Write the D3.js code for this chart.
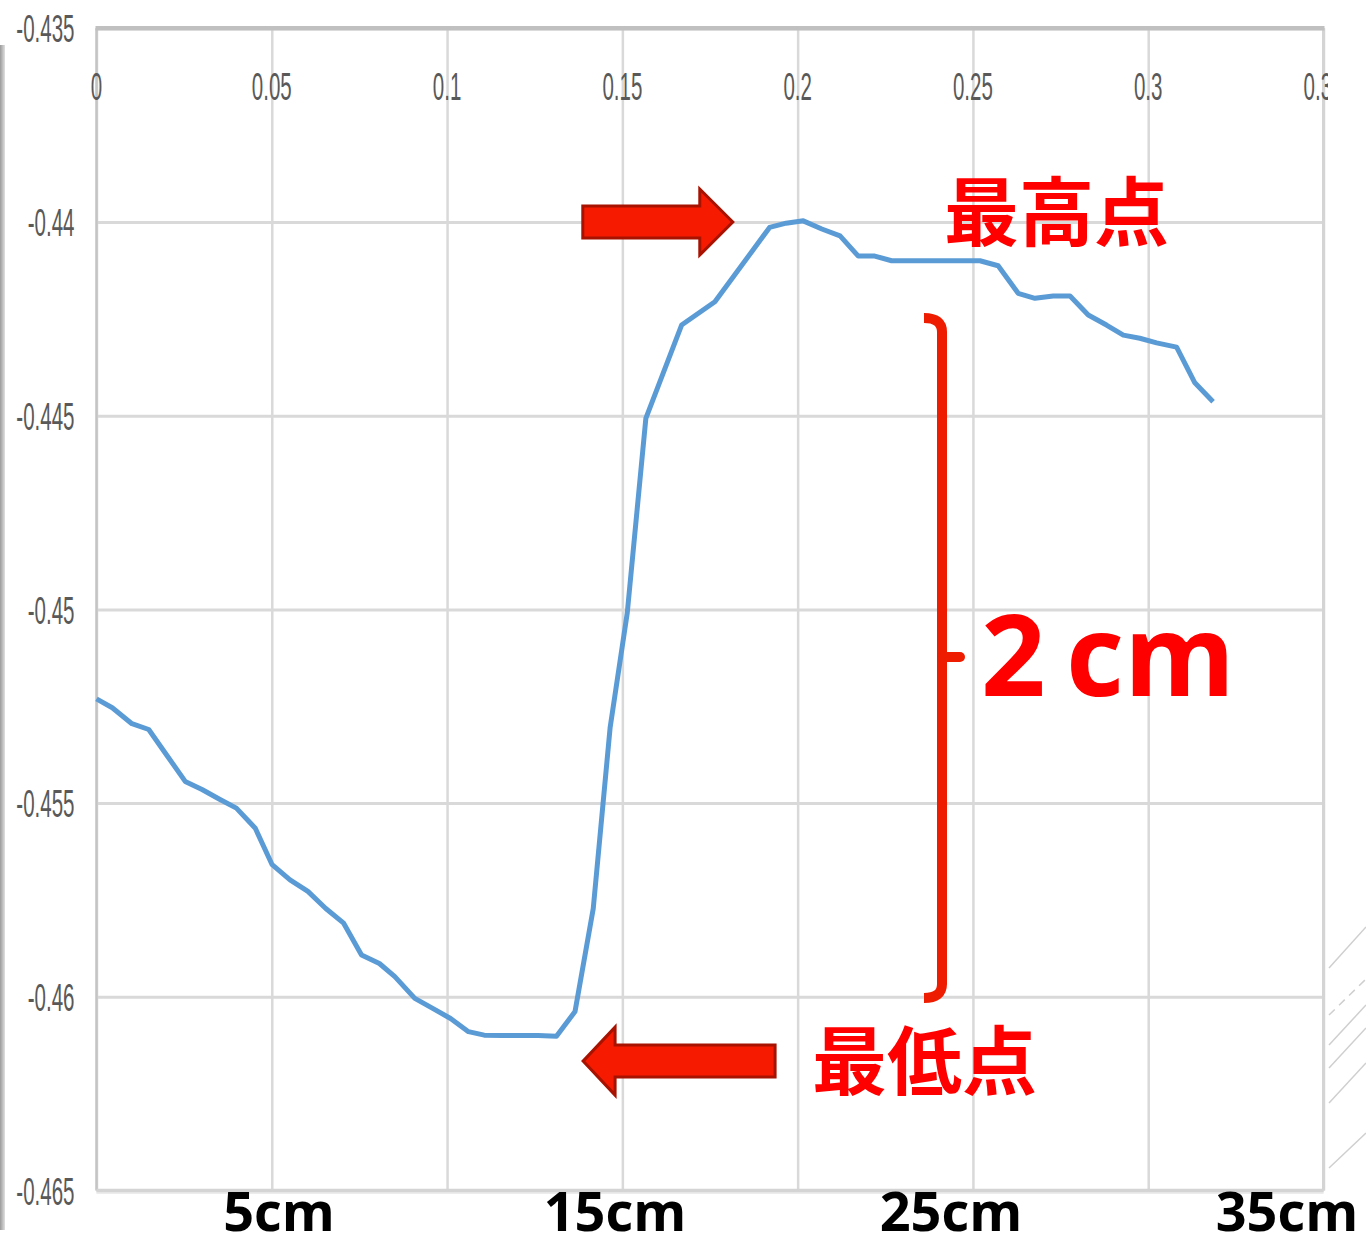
<!DOCTYPE html>
<html>
<head>
<meta charset="utf-8">
<script src="https://cdn.jsdelivr.net/npm/d3@7"></script>
<style>
  body { margin: 0; background: #fff; }
  svg { display: block; }
</style>
</head>
<body>
<div id="chart"></div>
<script>
'use strict';

// distance along the board (m) and measured height (m)
const distances = [
    0, 0.0045, 0.0101, 0.0149, 0.0201, 0.0253, 0.0301, 0.0351, 0.0399, 0.0453,
    0.0501, 0.0552, 0.0603, 0.0654, 0.0705, 0.0756, 0.0807, 0.0851, 0.0908, 0.0959,
    0.101, 0.1061, 0.1106, 0.1158, 0.1209, 0.126, 0.1312, 0.1365, 0.1417, 0.1465,
    0.1514, 0.1567, 0.1669, 0.1764, 0.1816, 0.1868, 0.192, 0.1967, 0.2016, 0.2069,
    0.2121, 0.2173, 0.222, 0.2268, 0.2318, 0.2368, 0.2418, 0.2468, 0.252, 0.2572,
    0.2629, 0.2677, 0.2729, 0.2777, 0.2829, 0.2881, 0.2929, 0.2976, 0.3024, 0.3081,
    0.3133, 0.3185
];
const heights = [
    -0.45231, -0.45254, -0.45295, -0.4531, -0.45377, -0.45444, -0.45465, -0.4549, -0.45513, -0.45565,
    -0.45659, -0.45698, -0.45728, -0.45772, -0.4581, -0.45892, -0.45914, -0.45948, -0.46004, -0.4603,
    -0.46056, -0.4609, -0.46099, -0.461, -0.461, -0.461, -0.46102, -0.46038, -0.45772, -0.45306,
    -0.45009, -0.44507, -0.44266, -0.44206, -0.44142, -0.44078, -0.44014, -0.44003, -0.43997, -0.44018,
    -0.44036, -0.44088, -0.44088, -0.441, -0.441, -0.441, -0.441, -0.441, -0.441, -0.44113,
    -0.44184, -0.44197, -0.44191, -0.44191, -0.4424, -0.44266, -0.44292, -0.443, -0.44312, -0.44323,
    -0.44415, -0.44464
];

const xTicks = [0, 0.05, 0.1, 0.15, 0.2, 0.25, 0.3, 0.35];
const xTickLabels = ["0", "0.05", "0.1", "0.15", "0.2", "0.25", "0.3", "0.35"];
const yTicks = [-0.435, -0.44, -0.445, -0.45, -0.455, -0.46, -0.465];
const yTickLabels = ["-0.435", "-0.44", "-0.445", "-0.45", "-0.455", "-0.46", "-0.465"];
const cmLabels = ["5cm", "15cm", "25cm", "35cm"];

const width = 1366, height = 1246;
const marginLeft = 96.5, marginTop = 28.3;
const plotW = 1227, plotH = 1162.2;
const labelScaleX = 0.54;

const svg = d3.select("#chart").append("svg")
    .attr("width", width)
    .attr("height", height);

svg.append("rect").attr("width", width).attr("height", height).attr("fill", "#fff");

const defs = svg.append("defs");
const grad = defs.append("linearGradient").attr("id", "edge").attr("x1", 0).attr("x2", 1).attr("y1", 0).attr("y2", 0);
grad.append("stop").attr("offset", 0).attr("stop-color", "#9a9a9a");
grad.append("stop").attr("offset", 1).attr("stop-color", "#e0e0e0");
defs.append("clipPath").attr("id", "cropRight")
    .append("rect").attr("x", 0).attr("y", 0).attr("width", 1328).attr("height", height);

// grey edge of the slide on the left
svg.append("rect").attr("x", 0).attr("y", 45).attr("width", 5).attr("height", 1185).attr("fill", "url(#edge)");

// faint diagonal strokes of the slide background on the right
const hatch = [[968, 927, false], [1015, 979, true], [1045, 1005, false], [1068, 1028, false], [1103, 1063, false], [1168, 1133, false]];
svg.append("g").selectAll("line").data(hatch).enter().append("line")
    .attr("x1", 1329).attr("x2", 1366)
    .attr("y1", d => d[0]).attr("y2", d => d[1])
    .attr("stroke", "#cfcfcf").attr("stroke-width", 1.5)
    .attr("stroke-dasharray", d => d[2] ? "8,6" : null);

const x = d3.scaleLinear().domain([0, 0.35]).range([marginLeft, marginLeft + plotW]);
const y = d3.scaleLinear().domain([-0.435, -0.465]).range([marginTop, marginTop + plotH]);

// horizontal gridlines
const yGrid = svg.append("g")
    .attr("transform", "translate(" + marginLeft + ",0)")
    .call(d3.axisLeft(y).tickValues(yTicks).tickSize(-plotW).tickFormat(""));
yGrid.select(".domain").remove();
yGrid.selectAll("line").attr("stroke", "#d9d9d9").attr("stroke-width", 3);

// vertical gridlines
const xGrid = svg.append("g")
    .attr("transform", "translate(0," + marginTop + ")")
    .call(d3.axisBottom(x).tickValues(xTicks).tickSize(plotH).tickFormat(""));
xGrid.select(".domain").remove();
xGrid.selectAll("line").attr("stroke", "#d9d9d9").attr("stroke-width", 2.5);

// frame: axis line on top, border left/right/bottom
svg.append("line").attr("x1", marginLeft).attr("x2", marginLeft).attr("y1", marginTop).attr("y2", y(-0.465))
    .attr("stroke", "#c4c4c4").attr("stroke-width", 2.5);
svg.append("line").attr("x1", x(0.35)).attr("x2", x(0.35)).attr("y1", marginTop).attr("y2", y(-0.465))
    .attr("stroke", "#d4d4d4").attr("stroke-width", 3);
svg.append("line").attr("x1", marginLeft).attr("x2", x(0.35)).attr("y1", y(-0.465) + 2).attr("y2", y(-0.465) + 2)
    .attr("stroke", "#ececec").attr("stroke-width", 3);
svg.append("line").attr("x1", marginLeft).attr("x2", x(0.35)).attr("y1", y(-0.465)).attr("y2", y(-0.465))
    .attr("stroke", "#d4d4d4").attr("stroke-width", 3.5);
svg.append("line").attr("x1", marginLeft - 1).attr("x2", x(0.35) + 1).attr("y1", marginTop).attr("y2", marginTop)
    .attr("stroke", "#c0c0c0").attr("stroke-width", 4.5);

// y labels
const yAxis = svg.append("g")
    .attr("transform", "translate(" + marginLeft + ",0)")
    .call(d3.axisLeft(y).tickValues(yTicks).tickFormat((d, i) => yTickLabels[i]).tickSize(0));
yAxis.select(".domain").remove();
yAxis.selectAll("text")
    .attr("x", -22 / labelScaleX)
    .attr("dy", "0.36em")
    .attr("transform", "scale(" + labelScaleX + ",1)")
    .style("font-family", "'Liberation Sans', Arial, sans-serif")
    .style("font-size", "38px")
    .attr("fill", "#595959");

// x labels (the top axis; the last label is cut by the slide crop)
const xAxis = svg.append("g")
    .attr("clip-path", "url(#cropRight)")
    .append("g")
    .attr("transform", "translate(0," + marginTop + ")")
    .call(d3.axisBottom(x).tickValues(xTicks).tickFormat((d, i) => xTickLabels[i]).tickSize(0));
xAxis.select(".domain").remove();
xAxis.selectAll("text")
    .attr("y", 58)
    .attr("dy", "0.36em")
    .attr("transform", "scale(" + labelScaleX + ",1)")
    .style("font-family", "'Liberation Sans', Arial, sans-serif")
    .style("font-size", "38px")
    .attr("fill", "#595959");
xAxis.selectAll(".tick").each(function (d) {
    d3.select(this).attr("transform", "translate(" + x(d) + ",0)");
});

// the measured profile
const points = distances.map((d, i) => [d, heights[i]]);
svg.append("path")
    .datum(points)
    .attr("fill", "none")
    .attr("stroke", "#5b9bd5")
    .attr("stroke-width", 5)
    .attr("stroke-linejoin", "round")
    .attr("d", d3.line().x(d => x(d[0])).y(d => y(d[1])));

// block arrows pointing at the highest and lowest point
const blockArrow = (tipX, tipY, dir, length, headLen, headHalf, bodyHalf) => {
    const b = tipX - dir * headLen, e = tipX - dir * length;
    return [[tipX, tipY], [b, tipY - headHalf], [b, tipY - bodyHalf], [e, tipY - bodyHalf],
        [e, tipY + bodyHalf], [b, tipY + bodyHalf], [b, tipY + headHalf]];
};
const arrows = [
    blockArrow(x(0.1815), y(-0.44), 1, 150, 33, 33, 16),
    blockArrow(x(0.1388), y(-0.46166), -1, 192, 32, 34, 16)
];
svg.append("g").selectAll("polygon").data(arrows).enter().append("polygon")
    .attr("points", d => d.map(p => p.join(",")).join(" "))
    .attr("fill", "#f61b00")
    .attr("stroke", "#a81200")
    .attr("stroke-width", 3)
    .attr("stroke-linejoin", "miter");

svg.append("text").attr("x", 944).attr("y", 240)
    .style("font-family", "'Noto Sans CJK JP', sans-serif").style("font-weight", 700).style("font-size", "75px")
    .attr("fill", "#ff0000").text("最高点");
svg.append("text").attr("x", 812).attr("y", 1089)
    .style("font-family", "'Noto Sans CJK JP', sans-serif").style("font-weight", 700).style("font-size", "75px")
    .attr("fill", "#ff0000").text("最低点");

// bracket spanning the 2 cm difference
const bx = 942, bTop = 318, bBot = 998, bMid = 657;
svg.append("path")
    .attr("d", "M" + (bx - 18) + "," + bTop + " Q" + bx + "," + bTop + " " + bx + "," + (bTop + 14) +
        " L" + bx + "," + (bBot - 14) + " Q" + bx + "," + bBot + " " + (bx - 18) + "," + bBot)
    .attr("fill", "none").attr("stroke", "#ee1c00").attr("stroke-width", 10);
svg.append("line").attr("x1", bx).attr("x2", bx + 18).attr("y1", bMid).attr("y2", bMid)
    .attr("stroke", "#ee1c00").attr("stroke-width", 10).attr("stroke-linecap", "round");

const big = svg.append("text").attr("y", 696)
    .style("font-family", "'Open Sans', sans-serif").style("font-weight", 700).style("font-size", "113px")
    .attr("fill", "#ff0000");
big.append("tspan").attr("x", 981).text("2");
big.append("tspan").attr("x", 1066).text("cm");

// distance labels under the chart
const cmPos = d3.scalePoint().domain(cmLabels).range([279, 1287]);
svg.append("g").selectAll("text").data(cmLabels).enter().append("text")
    .attr("x", d => cmPos(d))
    .attr("y", 1231)
    .attr("text-anchor", "middle")
    .style("font-family", "'Open Sans', sans-serif").style("font-weight", 700).style("font-size", "54px")
    .attr("fill", "#000")
    .text(d => d);
</script>
</body>
</html>
